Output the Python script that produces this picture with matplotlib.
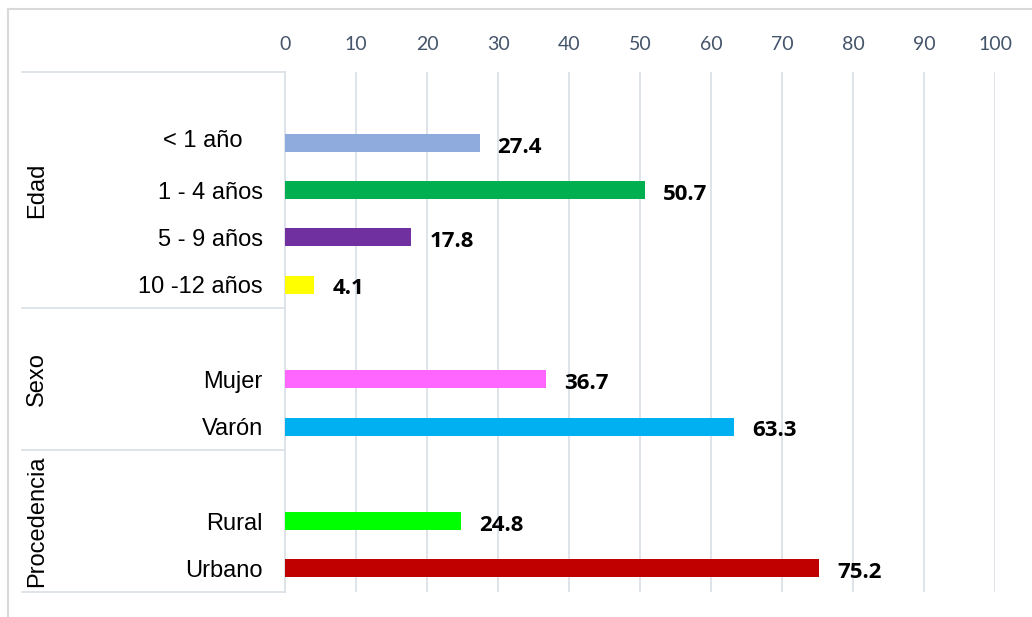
import matplotlib
matplotlib.use("Agg")
import matplotlib.pyplot as plt
from matplotlib.transforms import blended_transform_factory, ScaledTranslation

# ---- data ----
groups = ["Edad", "Sexo", "Procedencia"]
edad_labels = ["< 1 año", "1 - 4 años", "5 - 9 años", "10 -12 años"]
edad_values = [27.4, 50.7, 17.8, 4.1]
sexo_labels = ["Mujer", "Varón"]
sexo_values = [36.7, 63.3]
proc_labels = ["Rural", "Urbano"]
proc_values = [24.8, 75.2]
edad_colors = ["#8FAADC", "#00B050", "#7030A0", "#FFFF00"]
sexo_colors = ["#FF66FF", "#00B0F0"]
proc_colors = ["#00FF00", "#C00000"]
x_ticks = [0, 10, 20, 30, 40, 50, 60, 70, 80, 90, 100]

group_items = [
    (edad_labels, edad_values, edad_colors),
    (sexo_labels, sexo_values, sexo_colors),
    (proc_labels, proc_values, proc_colors),
]

fig = plt.figure(figsize=(10.32, 6.17), dpi=100)
W, H = 1032, 617
ax = fig.add_axes([285 / W, 1 - 592 / H, 710 / W, 520 / H])

grid_c = "#DCE1E8"
tick_c = "#44546A"

# positions: each group begins with an empty slot
pos = 0
ypos, labels, values, colors = [], [], [], []
group_bounds = []
for lbls, vals, cols in group_items:
    start = pos
    pos += 1  # empty slot
    for l, v, c in zip(lbls, vals, cols):
        ypos.append(pos)
        labels.append(l)
        values.append(v)
        colors.append(c)
        pos += 1
    group_bounds.append((start - 0.5, pos - 0.5))

ax.barh(ypos, values, height=0.38, color=colors, zorder=3)
for y, v in zip(ypos, values):
    ax.annotate(f"{v:.1f}", xy=(v, y), xytext=(13, -3), textcoords="offset points",
                ha="left", va="center", fontsize=16, fontweight="bold",
                family="Open Sans", color="black", zorder=4)

ax.set_xlim(0, 100)
ax.set_ylim(pos - 0.5, -0.5)
ax.set_xticks(x_ticks)
ax.xaxis.tick_top()
ax.tick_params(axis="x", length=0, pad=14, labelsize=14, labelcolor=tick_c)
for t in ax.get_xticklabels():
    t.set_family("Lato")

disp_labels = [l + "   " if l.startswith("<") else l for l in labels]
ax.set_yticks(ypos)
ax.set_yticklabels(disp_labels, fontsize=17, family="Liberation Sans")
ax.tick_params(axis="y", length=0, pad=16)
for t in ax.get_yticklabels():
    if t.get_text().startswith("<"):
        t.set_transform(t.get_transform() + ScaledTranslation(0, 4 / 100, fig.dpi_scale_trans))

ax.grid(axis="x", color=grid_c, linewidth=1.3, zorder=0)
for s in ["top", "right", "bottom"]:
    ax.spines[s].set_visible(False)
ax.spines["left"].set_color(grid_c)
ax.spines["left"].set_linewidth(1.3)

# group separators and labels
tr = blended_transform_factory(ax.transAxes, ax.transData)
x_left = (22 - 285) / 710
bounds_y = sorted(set([b for gb in group_bounds for b in gb]))
for yb in bounds_y:
    ax.plot([x_left, 0], [yb, yb], transform=tr, color=grid_c, linewidth=1.3,
            clip_on=False, zorder=1)
for g, (a, b) in zip(groups, group_bounds):
    ax.text((37 - 285) / 710, (a + b) / 2, g, transform=tr, rotation=90,
            ha="center", va="center", fontsize=17, family="Liberation Sans")

# outer chart border (left and top visible)
fig.add_artist(plt.Line2D([8 / W, 8 / W], [0, 1 - 9 / H], color="#D9D9D9", linewidth=1.5))
fig.add_artist(plt.Line2D([8 / W, 1], [1 - 9 / H, 1 - 9 / H], color="#D9D9D9", linewidth=1.5))

fig.savefig("out.png", dpi=100, facecolor="white")
